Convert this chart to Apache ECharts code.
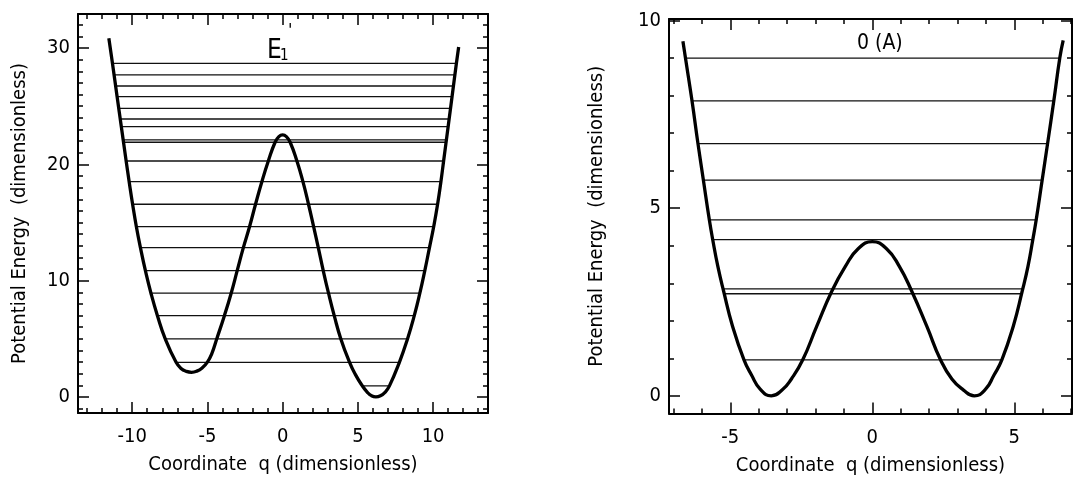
<!DOCTYPE html>
<html><head><meta charset="utf-8">
<script src="https://cdn.jsdelivr.net/npm/echarts@6/dist/echarts.min.js"></script>
<style>html,body{margin:0;padding:0;background:#fff}#c{width:1074px;height:492px}</style>
</head><body><div id="c"></div>
<script>
// ---------- Left panel: E1' ----------
const leftCurve = [
  [-11.55, 30.84], [-11.31, 28.69], [-11.0, 25.82], [-10.72, 23.24], [-10.4, 20.29],
  [-10.2, 18.51], [-9.97, 16.57], [-9.72, 14.64], [-9.45, 12.84], [-9.12, 10.86],
  [-8.75, 8.92], [-8.32, 6.99], [-7.80, 4.99], [-7.08, 2.98], [-6.75, 2.45],
  [-6.4, 2.2], [-6.05, 2.12], [-5.7, 2.22], [-5.35, 2.5], [-5.0, 3.0],
  [-4.7, 3.75], [-4.38, 4.99], [-3.87, 6.99], [-3.42, 8.92], [-3.02, 10.86],
  [-2.61, 12.84], [-2.2, 14.64], [-1.8, 16.57], [-1.38, 18.51], [-0.95, 20.29],
  [-0.5, 21.9], [-0.25, 22.38], [0, 22.53], [0.25, 22.38], [0.5, 21.9],
  [0.95, 20.29], [1.35, 18.51], [1.72, 16.57], [2.06, 14.64], [2.37, 12.84],
  [2.7, 10.86], [3.05, 8.92], [3.43, 6.99], [3.87, 4.99], [4.45, 2.98],
  [4.85, 1.9], [5.3, 0.95], [5.62, 0.42], [5.9, 0.11], [6.2, 0.0],
  [6.5, 0.1], [6.82, 0.42], [7.1, 0.95], [7.76, 2.98], [8.3, 4.99],
  [8.75, 6.99], [9.12, 8.92], [9.45, 10.86], [9.76, 12.84], [10.04, 14.64],
  [10.3, 16.57], [10.52, 18.51], [10.7, 20.29], [11.0, 23.24], [11.26, 25.82],
  [11.55, 28.69], [11.7, 30.1]
];
const leftLevelE  = [28.69, 27.69, 26.74, 25.82, 24.82, 23.90, 23.24, 22.10, 21.90, 20.29, 18.51, 16.57, 14.64, 12.84, 10.86, 8.92, 6.99, 4.99, 2.98, 0.95];
const leftLevelQL = [-11.31, -11.2, -11.1, -11.0, -10.9, -10.79, -10.72, -10.6, -10.58, -10.4, -10.2, -9.97, -9.72, -9.45, -9.12, -8.75, -8.32, -7.80, -7.08, 5.3];
const leftLevelQR = [11.55, 11.45, 11.35, 11.26, 11.16, 11.07, 11.0, 10.88, 10.86, 10.7, 10.52, 10.3, 10.04, 9.76, 9.45, 9.12, 8.75, 8.3, 7.76, 7.1];
const leftXTicks = [-10, -5, 0, 5, 10];
const leftXMinor = [-13, -12, -11, -9, -8, -7, -6, -4, -3, -2, -1, 1, 2, 3, 4, 6, 7, 8, 9, 11, 12, 13];
const leftYTicks = [0, 10, 20, 30];
const leftYMinor = [-1, 1, 2, 3, 4, 5, 6, 7, 8, 9, 11, 12, 13, 14, 15, 16, 17, 18, 19, 21, 22, 23, 24, 25, 26, 27, 28, 29, 31, 32];

// ---------- Right panel: O(A) ----------
const rightCurve = [
  [-6.67, 9.45], [-6.58, 9.0], [-6.35, 7.86], [-6.14, 6.72], [-5.95, 5.75],
  [-5.74, 4.69], [-5.62, 4.16], [-5.44, 3.45], [-5.24, 2.8], [-4.92, 1.85],
  [-4.52, 0.96], [-4.25, 0.55], [-3.95, 0.18], [-3.56, 0.0], [-3.17, 0.16],
  [-2.85, 0.45], [-2.45, 0.96], [-1.96, 1.85], [-1.42, 2.8], [-0.95, 3.45],
  [-0.5, 3.92], [0, 4.11], [0.5, 3.92], [0.95, 3.45], [1.38, 2.8],
  [1.92, 1.85], [2.4, 0.96], [2.8, 0.45], [3.2, 0.16], [3.59, 0.0],
  [3.98, 0.17], [4.28, 0.55], [4.56, 0.96], [4.96, 1.85], [5.28, 2.8],
  [5.48, 3.45], [5.65, 4.16], [5.77, 4.69], [5.98, 5.75], [6.17, 6.72],
  [6.39, 7.86], [6.6, 9.0], [6.72, 9.47]
];
const rightLevelE  = [9.0, 7.86, 6.72, 5.75, 4.69, 4.16, 2.85, 2.72, 0.96];
const rightLevelQL = [-6.58, -6.35, -6.14, -5.95, -5.74, -5.62, -5.26, -5.22, -4.52];
const rightLevelQR = [6.6, 6.39, 6.17, 5.98, 5.77, 5.65, 5.3, 5.26, 4.56];
const rightXTicks = [-5, 0, 5];
const rightXMinor = [-7, -6, -4, -3, -2, -1, 1, 2, 3, 4, 6, 7];
const rightYTicks = [0, 5, 10];
const rightYMinor = [1, 2, 3, 4, 6, 7, 8, 9];

const xTitle = 'Coordinate  q (dimensionless)';
const yTitle = 'Potential Energy  (dimensionless)';

const FONT = "'Liberation Sans Narrow', 'DejaVu Sans Condensed', 'Roboto Condensed', sans-serif";
const grids = [
  { left: 78, top: 14, width: 410, height: 399, xr: [-13.6, 13.65], yr: [-1.38, 32.93],
    xt: leftXTicks, xm: leftXMinor, yt: leftYTicks, ym: leftYMinor, yGap: 48 },
  { left: 669, top: 19, width: 403, height: 394.5, xr: [-7.16, 7.03], yr: [-0.47, 10.04],
    xt: rightXTicks, xm: rightXMinor, yt: rightYTicks, ym: rightYMinor, yGap: 62 }
];

const xAxes = [], yAxes = [];
const lineCol = '#000';
grids.forEach((g, gi) => {
  const base = (pos, isX, vals, len, withLabel, showLine) => {
    const a = {
      type: 'value', gridIndex: gi, position: pos,
      min: isX ? g.xr[0] : g.yr[0], max: isX ? g.xr[1] : g.yr[1],
      splitLine: { show: false },
      axisLine: { show: showLine, onZero: false, lineStyle: { color: lineCol, width: 2 } },
      axisTick: { show: true, inside: true, length: len, customValues: vals, lineStyle: { color: lineCol, width: 1.5 } },
      axisLabel: { show: withLabel, customValues: vals, color: '#000', fontFamily: FONT, fontSize: 20, margin: isX ? 14 : 8 }
    };
    if (withLabel && isX) {
      a.name = xTitle; a.nameLocation = 'middle'; a.nameGap = 42;
      a.nameTextStyle = { color: '#000', fontFamily: FONT, fontSize: 20 };
    }
    if (withLabel && !isX) {
      a.name = yTitle; a.nameLocation = 'middle'; a.nameGap = g.yGap;
      a.nameTextStyle = { color: '#000', fontFamily: FONT, fontSize: 20 };
    }
    return a;
  };
  xAxes.push(base('bottom', true, g.xt, 11, true, true));
  xAxes.push(base('bottom', true, g.xm, 5, false, false));
  xAxes.push(base('top', true, g.xt, 11, false, true));
  xAxes.push(base('top', true, g.xm, 5, false, false));
  yAxes.push(base('left', false, g.yt, 11, true, true));
  yAxes.push(base('left', false, g.ym, 5, false, false));
  yAxes.push(base('right', false, g.yt, 11, false, true));
  yAxes.push(base('right', false, g.ym, 5, false, false));
});

const series = [];
function addPanel(gi, curve, E, QL, QR) {
  const xi = gi * 4, yi = gi * 4;
  E.forEach((e, i) => {
    series.push({
      type: 'line', xAxisIndex: xi, yAxisIndex: yi, showSymbol: false, silent: true,
      data: [[QL[i], e], [QR[i], e]],
      lineStyle: { color: '#111', width: 1.3 }, z: 2
    });
  });
  series.push({
    type: 'line', xAxisIndex: xi, yAxisIndex: yi, showSymbol: false, silent: true,
    smooth: 0.5, data: curve,
    lineStyle: { color: '#000', width: 3.3, join: 'round' }, z: 3
  });
}
addPanel(0, leftCurve, leftLevelE, leftLevelQL, leftLevelQR);
addPanel(1, rightCurve, rightLevelE, rightLevelQL, rightLevelQR);

const chart = echarts.init(document.getElementById('c'), null, { renderer: 'canvas' });
chart.setOption({
  animation: false,
  backgroundColor: '#fff',
  title: [
    { text: 'E', left: 262, top: 33, textStyle: { fontFamily: FONT, fontSize: 26, fontWeight: 'normal', color: '#000' } },
    { text: '1', left: 275, top: 44, textStyle: { fontFamily: FONT, fontSize: 15, fontWeight: 'normal', color: '#000' } },
    { text: "'", left: 283, top: 17, textStyle: { fontFamily: FONT, fontSize: 18, fontWeight: 'normal', color: '#000' } },
    { text: '0 (A)', left: 852, top: 28, textStyle: { fontFamily: FONT, fontSize: 21, fontWeight: 'normal', color: '#000' } }
  ],
  grid: grids.map(g => ({ left: g.left, top: g.top, width: g.width, height: g.height, containLabel: false })),
  xAxis: xAxes,
  yAxis: yAxes,
  series: series
});
</script>
</body></html>
